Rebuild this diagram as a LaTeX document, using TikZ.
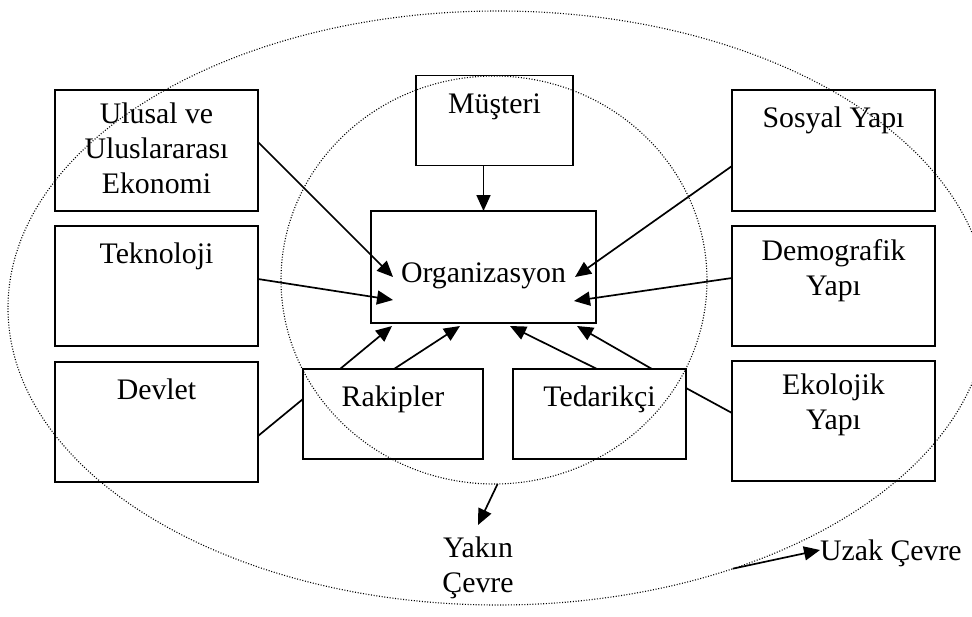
\documentclass[tikz,border=0pt]{standalone}
\usepackage{fontspec}
\setmainfont{Liberation Serif}
\usetikzlibrary{arrows.meta,calc,shapes.geometric}
\begin{document}
\begin{tikzpicture}[x=1pt,y=-1pt,
  box/.style={draw, line width=1.8pt, rectangle, inner sep=0pt, outer sep=0pt, anchor=north west},
  txt/.style={anchor=north, inner sep=0pt, align=center,
    font=\fontsize{29.8}{35}\selectfont, execute at begin node=\strut},
  ring/.style={draw, ellipse, line width=1.1pt, dash pattern=on 1pt off 1.7pt,
    inner sep=0pt, outer sep=0pt},
  link/.style={line width=1.7pt},
  arr/.style={link, -{Triangle[length=16pt,width=14pt]}}]
\useasboundingbox (0,0) rectangle (972,616);

% environment rings
\node[ring, minimum width=980pt, minimum height=594pt] (outer) at (498,308) {};
\node[ring, minimum width=426pt, minimum height=408pt] (inner) at (494,280) {};

% boxes
\node[box, minimum width=203pt, minimum height=121pt] (ulusal)  at (55,90)   {};
\node[box, minimum width=157pt, minimum height=90pt]  (mus)     at (416,75.5) {};
\node[box, minimum width=203pt, minimum height=121pt] (sosyal)  at (732,90)  {};
\node[box, minimum width=225pt, minimum height=112pt] (org)     at (371,211) {};
\node[box, minimum width=203pt, minimum height=120pt] (tekno)   at (55,226)  {};
\node[box, minimum width=203pt, minimum height=120pt] (demog)   at (732,226) {};
\node[box, minimum width=203pt, minimum height=120pt] (devlet)  at (55,362)  {};
\node[box, minimum width=203pt, minimum height=120pt] (ekoloj)  at (732,361) {};
\node[box, minimum width=180pt, minimum height=90pt]  (rakip)   at (303,369) {};
\node[box, minimum width=173pt, minimum height=90pt]  (tedarik) at (513,369) {};

% box texts
\node[txt] (ulusalT)  at ($(ulusal.north)+(0,13)$)  {Ulusal ve\\Uluslararası\\Ekonomi};
\node[txt] (musT)     at ($(mus.north)+(0,13)$)     {Müşteri};
\node[txt] (sosyalT)  at ($(sosyal.north)+(0,13)$)  {Sosyal Yapı};
\node[txt] (orgT)     at ($(org.north)+(0,47)$)     {Organizasyon};
\node[txt] (teknoT)   at ($(tekno.north)+(0,13)$)   {Teknoloji};
\node[txt] (demogT)   at ($(demog.north)+(0,13)$)   {Demografik\\Yapı};
\node[txt] (devletT)  at ($(devlet.north)+(0,13)$)  {Devlet};
\node[txt] (ekolojT)  at ($(ekoloj.north)+(0,13)$)  {Ekolojik\\Yapı};
\node[txt] (rakipT)   at ($(rakip.north)+(0,13)$)   {Rakipler};
\node[txt] (tedarikT) at ($(tedarik.north)+(0,13)$) {Tedarikçi};

% ring labels
\node[txt] (yakinT) at (478,537) {Yakın\\Çevre};
\node[txt, anchor=north west] (uzakT) at (820,536) {Uzak Çevre};

% connector end points
\coordinate (ulS)   at ($(ulusal.north east)+(0,52)$);
\coordinate (ulE)   at ($(org.north west)+(22,66)$);
\coordinate (tekS)  at ($(tekno.north east)+(0,53)$);
\coordinate (tekE)  at ($(org.north west)+(22,89)$);
\coordinate (rk1S)  at ($(rakip.north west)+(37,0)$);
\coordinate (rk1E)  at ($(org.south west)+(21,3)$);
\coordinate (rk2S)  at ($(rakip.north west)+(91,0)$);
\coordinate (rk2E)  at ($(org.south west)+(89,3)$);
\coordinate (td1S)  at ($(tedarik.north west)+(84,0)$);
\coordinate (td1E)  at ($(org.south west)+(139,3)$);
\coordinate (td2S)  at ($(tedarik.north west)+(139,0)$);
\coordinate (td2E)  at ($(org.south west)+(206,3)$);
\coordinate (sosS)  at ($(sosyal.north west)+(0,76)$);
\coordinate (sosE)  at ($(org.north west)+(204,66)$);
\coordinate (demS)  at ($(demog.north west)+(0,52)$);
\coordinate (demE)  at ($(org.north west)+(203,90)$);
\coordinate (dvS)   at ($(devlet.north east)+(0,74)$);
\coordinate (dvE)   at ($(rakip.north west)+(0,30)$);
\coordinate (ekS)   at ($(tedarik.north east)+(0,19)$);
\coordinate (ekE)   at ($(ekoloj.north west)+(0,52)$);
\coordinate (yakE)  at (478,525);
\coordinate (uzakE) at (820,550);

% influences on the organisation
\draw[arr] (mus.south -| org.north) -- (org.north);
\draw[arr] (ulS) -- (ulE);
\draw[arr] (tekS) -- (tekE);
\draw[arr] (rk1S) -- (rk1E);
\draw[arr] (rk2S) -- (rk2E);
\draw[arr] (td1S) -- (td1E);
\draw[arr] (td2S) -- (td2E);
\draw[arr] (sosS) -- (sosE);
\draw[arr] (demS) -- (demE);
\draw[link] (dvS) -- (dvE);
\draw[link] (ekS) -- (ekE);

% ring pointers
\draw[arr] (inner.-89) -- (yakE);
\draw[arr] (outer.-48) -- (uzakE);
\end{tikzpicture}
\end{document}
